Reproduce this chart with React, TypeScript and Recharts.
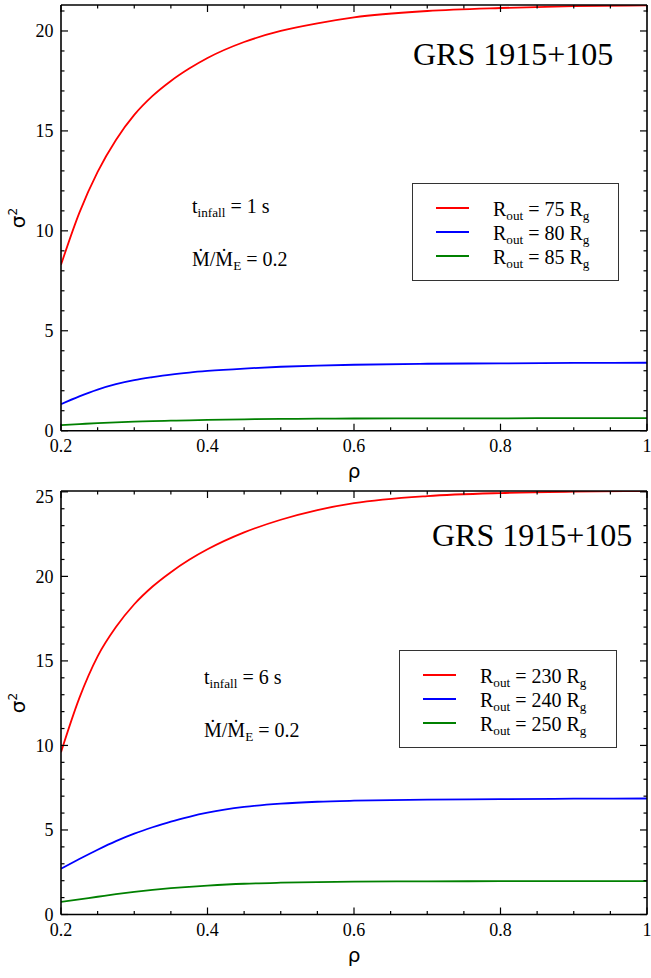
import React from 'react'
import { LineChart, Line, XAxis, YAxis, Legend } from 'recharts'

// rho grid shared by every curve
const RHO = [0.2, 0.225, 0.25, 0.275, 0.3, 0.325, 0.35, 0.375, 0.4, 0.45, 0.5, 0.55, 0.6, 0.7, 0.8, 0.9, 1.0]

// sigma^2 for t_infall = 1 s
const SIGMA_R75 = [8.3, 10.9, 12.95, 14.55, 15.8, 16.75, 17.5, 18.12, 18.65, 19.45, 20.0, 20.38, 20.68, 21.0, 21.15, 21.24, 21.28]
const SIGMA_R80 = [1.33, 1.72, 2.06, 2.33, 2.53, 2.68, 2.81, 2.91, 2.99, 3.11, 3.2, 3.26, 3.3, 3.35, 3.37, 3.39, 3.4]
const SIGMA_R85 = [0.28, 0.33, 0.38, 0.42, 0.45, 0.48, 0.5, 0.52, 0.54, 0.57, 0.59, 0.6, 0.61, 0.62, 0.62, 0.63, 0.63]

// sigma^2 for t_infall = 6 s
const SIGMA_R230 = [9.6, 12.8, 15.27, 17.0, 18.35, 19.4, 20.25, 20.98, 21.6, 22.6, 23.35, 23.92, 24.33, 24.75, 24.93, 25.01, 25.05]
const SIGMA_R240 = [2.71, 3.28, 3.83, 4.34, 4.78, 5.16, 5.5, 5.78, 6.02, 6.36, 6.56, 6.67, 6.73, 6.79, 6.82, 6.85, 6.86]
const SIGMA_R250 = [0.75, 0.9, 1.05, 1.2, 1.34, 1.46, 1.56, 1.64, 1.71, 1.82, 1.88, 1.92, 1.94, 1.96, 1.97, 1.97, 1.97]

const R_OUT_1S = [75, 80, 85]
const R_OUT_6S = [230, 240, 250]
const T_INFALL = [1, 6]
const MDOT_RATIO = 0.2
const SOURCE = 'GRS 1915+105'

const X_MAJOR = [0.2, 0.4, 0.6, 0.8, 1]
const X_MINOR = [0.25, 0.3, 0.35, 0.45, 0.5, 0.55, 0.65, 0.7, 0.75, 0.85, 0.9, 0.95]
const Y_MAJOR_1S = [0, 5, 10, 15, 20]
const Y_MINOR_1S = [1, 2, 3, 4, 6, 7, 8, 9, 11, 12, 13, 14, 16, 17, 18, 19, 21]
const Y_MAJOR_6S = [0, 5, 10, 15, 20, 25]
const Y_MINOR_6S = [1, 2, 3, 4, 6, 7, 8, 9, 11, 12, 13, 14, 16, 17, 18, 19, 21, 22, 23, 24]

const COLORS = ['#ff0000', '#0000ff', '#008000']
const SERIF = "'Liberation Serif', 'DejaVu Serif', serif"
const SANS = "'DejaVu Sans', sans-serif"
const MAJOR_LEN = 7
const MINOR_LEN = 3.5
const FRAME = { stroke: '#000', strokeWidth: 1.6 }

const fmtX = (v: number) => (v === 1 ? '1' : v.toFixed(1))

// ticks point into the plot: one renderer per side, major ticks are longer and labelled
type Side = 'bottom' | 'top' | 'left' | 'right'
function sideTick(side: Side, majors: number[], plotTop = 0) {
  return (p: any) => {
    const v = p.payload.value as number
    const major = majors.includes(v)
    const len = major ? MAJOR_LEN : MINOR_LEN
    const { x, y } = p
    let line
    if (side === 'bottom') line = <line x1={x} x2={x} y1={y} y2={y - len} />
    else if (side === 'top') line = <line x1={x} x2={x} y1={y} y2={y + len} />
    else if (side === 'left') line = <line x1={x} x2={x + len} y1={y} y2={y} />
    else line = <line x1={x} x2={x - len} y1={y} y2={y} />
    const labelStyle = { fontFamily: SERIF, fontSize: 18 }
    return (
      <g stroke="#000" strokeWidth={1.2}>
        {line}
        {major && side === 'bottom' && (
          <text x={x} y={y + 21.6} textAnchor="middle" style={labelStyle} fill="#000" stroke="none">
            {fmtX(v)}
          </text>
        )}
        {major && side === 'left' && (
          // the topmost label is nudged down so it stays inside the frame height
          <text x={x - 7.5} y={Math.max(y + 6.2, plotTop + 12)} textAnchor="end" style={labelStyle} fill="#000" stroke="none">
            {v}
          </text>
        )}
      </g>
    )
  }
}

const Sub = ({ children }: { children: React.ReactNode }) => (
  <span style={{ fontSize: '0.66em', position: 'relative', top: '0.28em' }}>{children}</span>
)

type Box = { left: number; top: number; width: number; height: number }

function legendContent(box: Box) {
  return (props: any) => {
    const items = [...(props.payload ?? [])].sort((a: any, b: any) => Number(a.value) - Number(b.value))
    return (
      <div
        style={{
          position: 'relative',
          width: box.width,
          height: box.height,
          boxSizing: 'border-box',
          border: '1px solid #333',
          background: '#fff',
          fontFamily: SERIF,
          fontSize: 20,
          color: '#000',
        }}
      >
        {items.map((it: any, i: number) => {
          const rowY = 23.7 + i * 24.2
          return (
            <React.Fragment key={it.value}>
              <div style={{ position: 'absolute', left: 23, top: rowY - 1, width: 33, height: 2, background: it.color }} />
              <div style={{ position: 'absolute', left: 80, top: rowY - 8.8, lineHeight: 1, whiteSpace: 'nowrap' }}>
                R<Sub>out</Sub> = {it.value} R<Sub>g</Sub>
              </div>
            </React.Fragment>
          )
        })}
      </div>
    )
  }
}

type PanelProps = {
  top: number
  height: number
  plotTop: number
  plotBottom: number
  yMax: number
  yMajor: number[]
  yMinor: number[]
  series: number[][]
  rOut: number[]
  tInfall: number
  legend: Box
  title: { left: number; baseline: number }
  note: { left: number; baseline1: number; baseline2: number }
}

function Panel(p: PanelProps) {
  const rows = RHO.map((rho, i) => {
    const row: Record<string, number> = { rho }
    p.rOut.forEach((r, k) => {
      row[`r${r}`] = p.series[k][i]
    })
    return row
  })
  const plotLeft = 61
  const plotRight = 647
  const midY = (p.plotTop + p.plotBottom) / 2
  const xTicks = [...X_MAJOR, ...X_MINOR].sort((a, b) => a - b)
  const yTicks = [...p.yMajor, ...p.yMinor].sort((a, b) => a - b)

  const xCommon = {
    dataKey: 'rho',
    type: 'number' as const,
    domain: [0.2, 1] as [number, number],
    ticks: xTicks,
    interval: 0 as const,
    height: 1,
    tickSize: 0,
    tickMargin: 0,
    tickLine: false,
    allowDataOverflow: true,
    axisLine: FRAME,
  }
  const yCommon = {
    type: 'number' as const,
    domain: [0, p.yMax] as [number, number],
    ticks: yTicks,
    interval: 0 as const,
    width: 1,
    tickSize: 0,
    tickMargin: 0,
    tickLine: false,
    allowDataOverflow: true,
    axisLine: FRAME,
  }

  const textBase = {
    position: 'absolute' as const,
    lineHeight: 1,
    whiteSpace: 'nowrap' as const,
    color: '#000',
  }

  return (
    <div style={{ position: 'absolute', left: 0, top: p.top, width: 651, height: p.height }}>
      <LineChart
        width={651}
        height={p.height}
        data={rows}
        margin={{
          top: p.plotTop - 1,
          left: plotLeft - 1,
          right: 651 - plotRight - 1,
          bottom: p.height - p.plotBottom - 1,
        }}
      >
        <XAxis {...xCommon} orientation="bottom" tick={sideTick('bottom', X_MAJOR)} />
        <XAxis {...xCommon} xAxisId="top" orientation="top" tick={sideTick('top', X_MAJOR)} />
        <YAxis {...yCommon} orientation="left" tick={sideTick('left', p.yMajor, p.plotTop)} />
        <YAxis {...yCommon} yAxisId="right" orientation="right" tick={sideTick('right', p.yMajor)} />
        {p.rOut.map((r, k) => (
          <Line
            key={r}
            type="monotone"
            dataKey={`r${r}`}
            name={String(r)}
            stroke={COLORS[k]}
            strokeWidth={1.8}
            dot={false}
            activeDot={false}
            isAnimationActive={false}
          />
        ))}
        <Legend
          layout="vertical"
          align="center"
          verticalAlign="middle"
          wrapperStyle={{ left: p.legend.left, top: p.legend.top, width: p.legend.width, height: p.legend.height }}
          content={legendContent(p.legend)}
        />
      </LineChart>

      <div style={{ ...textBase, left: p.title.left, top: p.title.baseline - 0.8375 * 32, fontFamily: SERIF, fontSize: 32 }}>
        {SOURCE}
      </div>

      <div style={{ ...textBase, left: p.note.left, top: p.note.baseline1 - 0.8375 * 20, fontFamily: SERIF, fontSize: 20 }}>
        t<Sub>infall</Sub> = {p.tInfall} s
      </div>
      <div style={{ ...textBase, left: p.note.left, top: p.note.baseline2 - 0.8375 * 20, fontFamily: SERIF, fontSize: 20 }}>
        Ṁ/Ṁ<Sub>E</Sub> = {MDOT_RATIO}
      </div>

      {/* y label, rotated */}
      <div
        style={{
          ...textBase,
          left: 18,
          top: midY,
          transform: 'translate(-50%, -50%) rotate(-90deg)',
          fontFamily: SANS,
          fontSize: 20,
        }}
      >
        σ<span style={{ fontSize: '0.6em', position: 'relative', top: '-0.7em' }}>2</span>
      </div>

      {/* x label */}
      <div
        style={{
          ...textBase,
          left: (plotLeft + plotRight) / 2,
          top: p.plotBottom + 40,
          transform: 'translate(-50%, -50%)',
          fontFamily: SANS,
          fontSize: 20,
        }}
      >
        ρ
      </div>
    </div>
  )
}

export default function App() {
  return (
    <div style={{ position: 'absolute', left: 0, top: 0, width: 651, height: 978, background: '#fff' }}>
      <Panel
        top={0}
        height={490}
        plotTop={5}
        plotBottom={430.7}
        yMax={21.3}
        yMajor={Y_MAJOR_1S}
        yMinor={Y_MINOR_1S}
        series={[SIGMA_R75, SIGMA_R80, SIGMA_R85]}
        rOut={R_OUT_1S}
        tInfall={T_INFALL[0]}
        legend={{ left: 412, top: 183, width: 207, height: 98 }}
        title={{ left: 413, baseline: 65 }}
        note={{ left: 192, baseline1: 213, baseline2: 266 }}
      />
      <Panel
        top={485}
        height={493}
        plotTop={6}
        plotBottom={429.5}
        yMax={25.05}
        yMajor={Y_MAJOR_6S}
        yMinor={Y_MINOR_6S}
        series={[SIGMA_R230, SIGMA_R240, SIGMA_R250]}
        rOut={R_OUT_6S}
        tInfall={T_INFALL[1]}
        legend={{ left: 399, top: 165, width: 218, height: 98 }}
        title={{ left: 432, baseline: 61 }}
        note={{ left: 204, baseline1: 199, baseline2: 252 }}
      />
    </div>
  )
}
